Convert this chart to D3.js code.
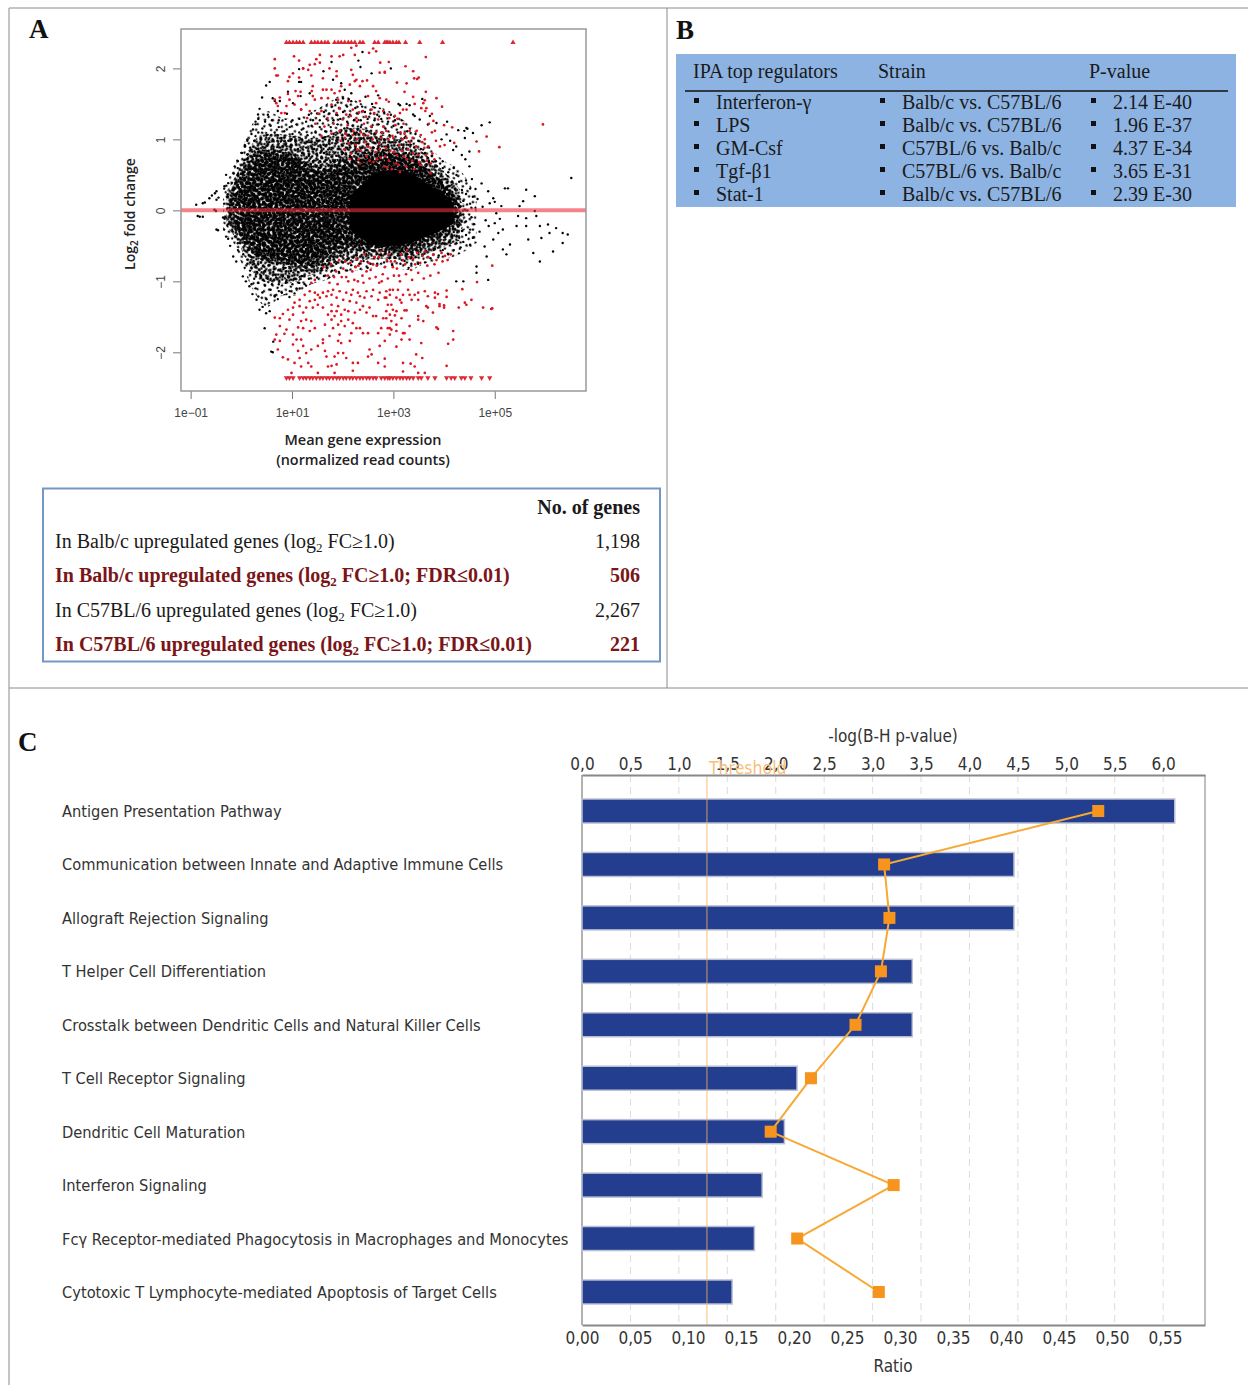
<!DOCTYPE html>
<html>
<head>
<meta charset="utf-8">
<script src="https://d3js.org/d3.v7.min.js"></script>
<style>
	html, body { margin: 0; padding: 0; background: #fff; }
	svg { display: block; }
	.serif { font-family: "Liberation Serif", serif; fill: #1a1a1a; }
	.sans { font-family: "Open Sans", sans-serif; }
	.cond { font-family: "DejaVu Sans", sans-serif; font-stretch: condensed; fill: #333; }
</style>
</head>
<body>
<svg id="viz" width="1248" height="1385"></svg>
<script>

// ---------- panel A: MA plot ----------
// x values are log10(mean expression), y values are log2 fold change
const maXTicks = [-1, 1, 3, 5];
const maXLabels = ["1e\u221201", "1e+01", "1e+03", "1e+05"];
const maYTicks = [-2, -1, 0, 1, 2];
const maYLabels = ["\u22122", "\u22121", "0", "1", "2"];

// The cloud is too dense to read one dot at a time, so it is kept as density outlines
const cloudFringeX = [-0.36, -0.16, 0.03, 0.23, 0.49, 0.82, 1.09, 1.35, 1.68, 2.0, 2.4, 2.86, 3.32, 3.65, 3.98, 4.31, 4.64];
const cloudFringeHi = [0.34, 0.57, 0.9, 1.23, 1.4, 1.3, 1.3, 1.38, 1.5, 1.62, 1.5, 1.42, 1.2, 0.95, 0.71, 0.57, 0.2];
const cloudFringeLo = [-0.32, -0.46, -0.79, -1.12, -1.36, -1.2, -1.2, -1.05, -0.98, -0.88, -0.84, -0.79, -0.84, -0.74, -0.7, -0.62, -0.46];

const cloudOuterX = [-0.3, -0.1, 0.1, 0.36, 0.69, 1.02, 1.35, 1.68, 2.0, 2.4, 2.86, 3.32, 3.65, 3.98, 4.31];
const cloudOuterHi = [0.25, 0.5, 0.8, 1.05, 1.08, 1.05, 1.02, 1.05, 1.15, 1.15, 1.05, 0.95, 0.78, 0.56, 0.3];
const cloudOuterLo = [-0.22, -0.4, -0.7, -0.98, -1.02, -1.02, -0.92, -0.84, -0.74, -0.7, -0.68, -0.7, -0.62, -0.52, -0.42];

const cloudMidX = [-0.16, 0.03, 0.36, 0.69, 1.02, 1.35, 1.68, 2.0, 2.66, 3.32, 3.65, 3.98, 4.31];
const cloudMidHi = [0.2, 0.45, 0.78, 0.8, 0.76, 0.62, 0.56, 0.66, 0.78, 0.76, 0.6, 0.4, 0.12];
const cloudMidLo = [-0.2, -0.4, -0.68, -0.72, -0.76, -0.8, -0.66, -0.54, -0.56, -0.58, -0.46, -0.34, -0.2];

const cloudCoreX = [2.14, 2.4, 2.66, 2.99, 3.32, 3.65, 3.98, 4.18];
const cloudCoreHi = [0.2, 0.38, 0.53, 0.57, 0.53, 0.38, 0.24, 0.1];
const cloudCoreLo = [-0.27, -0.41, -0.5, -0.5, -0.46, -0.37, -0.27, -0.18];

const blackPoints = [
	[6.51,.455],[4.9,1.24],[4.74,1.2],[4.44,1.16],[4.28,1.13],[4.41,1.02],[4.5,.83],[4.24,.9],[4.05,1.07],[3.85,1.23],
	[5.2,.31],[5.26,.31],[5.62,.29],[5.79,.2],[5.56,.13],[5.49,.06],[4.87,.27],[4.74,.38],[4.97,.17],[5.13,.06],
	[5.03,-.04],[5.46,-.08],[5.62,-.11],[5.79,-.01],[5.82,-.08],[5.43,-.22],[5.62,-.22],[5.89,-.22],[6.05,-.2],[6.21,-.25],
	[5.92,-.39],[6.08,-.32],[6.34,-.32],[6.44,-.34],[6.34,-.46],[6.15,-.58],[5.89,-.72],[5.76,-.6],[5.66,-.41],[5.3,-.48],
	[5.16,-.55],[5.23,-.62],[5.16,-.27],[5.07,-.32],[4.97,-.41],[4.8,-.51],[4.84,-.65],[4.64,-.79],[4.87,-.98],[4.64,-.88],
	[4.38,-1],[4.24,-1],[5.0,.12],[4.9,.1],[5.1,-.12],[5.0,-.18],[4.88,-.22],[4.82,-.14],[4.76,.05],[4.7,-.3],
	[4.62,.3],[4.55,.44],[4.66,.16],[4.58,-.38],[4.5,.62],[4.42,.72],[4.35,.78],[4.18,.85],[4.12,.98],[3.95,1.0],
	[-.89,.08],[-.76,.1],[-.72,.11],[-.86,-.08],[-.82,-.09],[-.76,-.09],[-.63,.17],[-.58,.21],[-.49,.27],[-.52,.24],
	[-.49,.15],[-.45,.18],[-.49,-.27],[-.46,-.28],[-.53,.01],[-.5,-.01],[-.3,.5],[-.33,.34],[-.36,-.1],[-.33,-.12],
	[-.3,-.37],[-.26,-.4],[-.16,-.65],[-.1,-.72],[-.22,-.5],[-.13,.62],[-.08,.7],[0,.81],[.07,.9],[.12,1.0],
	[.23,1.14],[.28,1.25],[.33,1.35],[.36,1.43],[.03,-.93],[.09,-1.0],[.16,-1.07],[.22,-1.18],[.3,-1.26],[.36,-1.4],
	[.42,-1.36],[.49,-1.45],[.46,-1.66],[.63,-1.85],[.59,-1.99],[.62,-2.0],[.56,-1.42],[.66,-1.2],[.72,-1.25],[.8,-1.16],
	[.95,-1.22],[1.05,-1.17],[1.15,-1.1],[1.25,-1.04],[.49,1.76],[.56,1.81],[.41,1.59],[1.14,1.99],[1.22,2.0],[1.14,1.81],
	[1.18,1.81],[1.78,2.09],[1.62,1.96],[2.39,2.23],[2.31,2.11],[2.35,2.02],[2.57,1.93],[1.81,1.84],[.92,1.67],[.62,1.58],
	[.66,1.54],[.76,1.54],[1.17,1.61],[1.02,1.51],[2.17,1.65],[2.04,1.7],[1.97,1.79],[1.35,1.65],[2.95,2.0],[3.57,1.57],
	[3.26,1.5],[3.32,1.48],[3.13,1.48],[3.72,1.33],[4.06,1.25],[4.46,1.15],[4.4,1.12],[4.57,1.09],[3.68,1.21],[3.52,1.28],
	[3.39,1.35],[3.42,1.33],[2.12,1.56],[2.45,1.6],[2.7,1.62],[2.58,1.5],[3.1,1.5],[1.9,1.52],[.72,1.4],[.9,1.36],[1.18,1.42]
];

const redTopPoints = [
	[.66,2.13],[.66,2.0],[.69,1.9],[.72,1.9],[1.04,2.17],[1.14,2.11],[.95,1.88],[1.02,1.93],[1.14,1.87],[.92,1.82],
	[1.48,2.13],[1.55,2.19],[1.45,2.06],[1.55,2.08],[1.35,2.05],[1.32,1.98],[1.22,2.0],[1.78,2.17],[1.94,2.17],[2.01,2.19],
	[1.74,2.0],[1.88,1.96],[1.88,1.89],[1.61,1.86],[1.38,1.9],[2.24,2.19],[2.17,2.29],[2.27,2.32],[2.52,2.22],[2.6,2.28],
	[2.66,2.24],[2.74,2.08],[2.73,1.94],[2.83,1.94],[2.17,1.98],[2.2,1.91],[2.27,1.84],[2.24,1.82],[2.39,1.82],[2.48,1.83],
	[1.41,1.75],[1.39,1.68],[1.41,1.61],[1.07,1.68],[1.17,1.67],[.92,1.64],[1.12,1.61],[.76,1.59],[.66,1.56],[.69,1.51],
	[.72,1.47],[.95,1.56],[1.05,1.49],[.89,1.47],[.79,1.37],[.86,1.37],[1.28,1.49],[1.18,1.42],[1.45,1.56],[1.61,1.7],
	[1.68,1.7],[1.78,1.7],[1.84,1.65],[1.94,1.68],[1.97,1.75],[2.14,1.77],[2.34,1.75],[2.6,1.75],[2.66,1.68],[2.73,1.58],
	[1.58,1.58],[1.71,1.58],[1.91,1.56],[2.11,1.54],[2.34,1.54],[2.5,1.61],[2.66,1.51],[2.8,1.4],[2.89,1.35],[2.07,1.35],
	[2.4,1.4],[2.27,1.3],[1.35,1.4],[1.58,1.4],[1.78,1.49],[1.94,1.44],[2.2,1.42],[2.57,1.42],
	[2.91,2.09],[2.83,1.95],[3.24,2.03],[3.39,1.96],[3.41,1.86],[3.47,1.85],[3.5,1.87],[3.64,2.16],[3.07,1.8],[3.26,1.79],
	[3.22,1.67],[3.39,1.6],[3.64,1.67],[3.85,1.58],[3.62,1.55],[3.59,1.51],[3.42,1.5],[3.55,1.44],[3.65,1.44],[3.63,1.4],
	[3.96,1.46],[3.76,1.36],[3.79,1.26],[4.0,1.2],[4.16,1.17],[3.82,1.12],[2.86,1.56],[2.91,1.53],[3.19,1.42],[3.26,1.42],
	[3.03,1.33],[3.13,1.37],[5.95,1.21],[5.09,.89],[4.84,1.04],[4.64,.97],[4.69,.83],[4.01,.92],[4.2,.95],
	[1.3,1.3],[1.46,1.22],[1.52,1.36],[1.58,1.05],[1.64,1.18],[1.7,1.3],[1.78,1.08],[1.82,1.22],[1.88,1.37],[1.94,1.12],
	[2.0,1.28],[2.04,1.02],[2.1,1.2],[2.16,1.33],[2.2,1.06],[2.28,1.25],[2.32,1.38],[2.36,1.1],[2.42,1.22],[2.46,1.32],
	[2.5,1.05],[2.56,1.18],[2.62,1.37],[2.66,1.1],[2.7,1.28],[2.76,1.02],[2.8,1.18],[2.86,1.12],[2.92,1.3],[2.98,1.05],
	[3.04,1.2],[3.08,1.29],[3.14,1.1],[3.2,1.22],[3.26,1.02],[3.32,1.12],[3.38,1.02],[3.46,1.12],[3.54,1.06],[3.62,1.0],
	[3.7,1.22],[3.76,1.1],[3.84,.98],[3.92,.9]
];

const redMidPoints = [
	[1.96,.98],[2.03,.86],[2.12,.94],[2.17,.8],[2.26,.92],[2.31,.72],[2.36,.84],[2.44,.96],[2.47,.76],[2.55,.88],
	[2.61,.68],[2.65,.82],[2.72,.94],[2.75,.74],[2.82,.62],[2.85,.88],[2.91,.7],[2.97,.58],[3.01,.82],[3.05,.66],
	[3.12,.92],[3.13,.54],[3.21,.76],[3.25,.62],[3.29,.86],[3.37,.7],[3.41,.58],[3.49,.78],[3.53,.64],[3.61,.88],
	[3.66,.7],[3.73,.52],[3.77,.8],[2.28,1.0],[2.9,1.0],[3.18,1.0],
	[1.62,-.8],[1.71,-.92],[1.77,-.76],[1.87,-.86],[1.93,-.7],[2.01,-.82],[2.07,-.94],[2.15,-.74],[2.19,-.86],[2.27,-.68],
	[2.31,-.78],[2.39,-.92],[2.43,-.62],[2.51,-.74],[2.55,-.84],[2.63,-.66],[2.67,-.78],[2.75,-.58],[2.79,-.9],[2.87,-.7],
	[2.91,-.62],[2.99,-.8],[3.03,-.72],[3.11,-.92],[3.15,-.62],[3.23,-.76],[3.27,-.56],[3.35,-.84],[3.39,-.68],[3.47,-.6],
	[3.53,-.74],[3.63,-.58],[3.69,-.66],[3.79,-.62],[3.85,-.7],[3.95,-.6],[4.02,-.64],[1.45,-.98],[1.38,-1.02],[2.3,-1.0],[2.72,-1.02],
	// second pass over the red patches lying on the black cloud
	[2.06,1.08],[2.14,.72],[2.21,1.12],[2.29,.86],[2.34,.66],[2.41,1.06],[2.49,.9],[2.53,.7],[2.59,1.0],[2.68,.72],
	[2.73,.86],[2.78,1.1],[2.84,.76],[2.88,.6],[2.94,.84],[3.0,1.02],[3.07,.78],[3.1,.64],[3.17,.84],[3.22,1.08],
	[3.27,.72],[3.33,.96],[3.39,.8],[3.45,.9],[3.51,.68],[3.57,.96],[3.64,.78],[3.69,.9],[3.74,.66],[3.81,.72],
	[1.74,-1.02],[1.83,-.94],[1.9,-1.04],[1.98,-.94],[2.05,-.72],[2.11,-1.0],[2.23,-.98],[2.25,-.8],[2.36,-.72],[2.41,-1.02],
	[2.47,-.86],[2.53,-.96],[2.6,-.76],[2.65,-.94],[2.71,-.66],[2.77,-1.0],[2.83,-.8],[2.89,-.96],[2.95,-.72],[3.01,-.92],
	[3.07,-.82],[3.13,-1.0],[3.19,-.7],[3.25,-.9],[3.31,-.66],[3.37,-.98],[3.43,-.76],[3.49,-.88],[3.57,-.64],[3.6,-.96],
	[3.67,-.78],[3.73,-.92],[3.81,-.76],[3.89,-.88],[3.97,-.72],[4.07,-.7],[4.13,-.62]
];

const redBottomPoints = [
	[.66,-1.51],[.76,-1.52],[.82,-1.46],[.92,-1.4],[1.02,-1.37],[.95,-1.54],[1.05,-1.3],[1.15,-1.26],[1.25,-1.19],[1.35,-1.28],
	[1.45,-1.26],[1.51,-1.19],[1.61,-1.16],[1.71,-1.14],[1.81,-1.12],[1.94,-1.14],[2.07,-1.16],[2.2,-1.12],[2.34,-1.21],[2.47,-1.14],
	[2.6,-1.12],[2.73,-1.16],[2.86,-1.14],[1.22,-1.44],[1.41,-1.37],[1.51,-1.33],[1.61,-1.37],[1.78,-1.33],[1.91,-1.35],[2.04,-1.4],
	[2.14,-1.28],[2.27,-1.3],[2.4,-1.35],[2.53,-1.37],[2.66,-1.49],[2.8,-1.52],[2.89,-1.33],[1.18,-1.56],[1.28,-1.54],[1.38,-1.56],
	[1.45,-1.66],[1.35,-1.7],[1.22,-1.66],[1.12,-1.65],[1.02,-1.75],[.89,-1.68],[.76,-1.63],[.69,-1.75],[.85,-1.74],[.66,-1.82],
	[.76,-1.84],[.72,-1.96],[1.09,-1.82],[1.18,-1.82],[1.22,-1.91],[1.12,-1.98],[1.02,-1.89],[1.15,-2.08],[1.05,-2.15],[.92,-2.1],
	[.82,-2.07],[1.18,-2.2],[1.32,-2.15],[1.38,-2.2],[1.28,-2.01],[1.38,-1.96],[1.51,-1.91],[1.61,-1.87],[1.65,-1.98],[1.68,-2.06],
	[1.61,-1.82],[1.74,-1.77],[1.71,-2.2],[1.78,-2.19],[1.88,-2.17],[1.84,-2.06],[1.91,-2.01],[2.01,-2.01],[2.07,-2.08],[1.97,-1.87],
	[1.91,-1.84],[1.94,-1.75],[1.81,-1.66],[1.91,-1.61],[1.97,-1.56],[1.78,-1.54],[1.65,-1.61],[1.71,-1.47],[1.84,-1.49],[2.04,-1.63],
	[2.11,-1.54],[2.2,-1.59],[2.27,-1.66],[2.34,-1.66],[2.14,-1.84],[2.17,-1.73],[2.4,-1.73],[2.5,-1.73],[2.7,-1.73],[2.76,-1.66],
	[2.89,-1.66],[2.73,-1.91],[2.53,-1.96],[2.57,-2.03],[2.7,-2.15],[2.83,-2.2],[2.3,-2.15],[2.2,-2.15],[2.5,-2.06],[1.51,-2.29],
	[2.2,-2.26],[1.84,-2.29],[.99,-2.29],[1.35,-1.14],[1.45,-1.16],[1.55,-1.23],[1.68,-1.21],[1.78,-1.19],[1.88,-1.23],[2.01,-1.26],
	[2.17,-1.19],[2.3,-1.16],[2.43,-1.23],[2.57,-1.21],[2.7,-1.26],[2.83,-1.23],[1.88,-1.42],[1.97,-1.47],[2.11,-1.42],[2.24,-1.44],
	[2.34,-1.4],[2.47,-1.44],[2.6,-1.49],[1.15,-1.35],[1.28,-1.37],[1.02,-1.47],[1.78,-1.42],
	[2.86,-1.23],[2.93,-1.19],[2.96,-1.33],[2.86,-1.42],[2.99,-1.4],[3.06,-1.42],[2.93,-1.47],[3.03,-1.48],[2.86,-1.52],[2.96,-1.56],
	[3.06,-1.61],[3.16,-1.52],[3.32,-1.63],[2.93,-1.66],[2.96,-1.68],[3.06,-1.7],[2.93,-1.75],[3.19,-1.73],[3.22,-1.73],[3.16,-1.82],
	[3.32,-1.82],[3.06,-1.92],[2.83,-1.84],[3.55,-1.87],[2.83,-2.09],[3.19,-2.15],[3.34,-2.16],[3.42,-2.2],[3.45,-2.03],[3.57,-2.08],
	[3.19,-2.27],[3.49,-2.29],[3.62,-2.29],[4.05,-2.19],[4.08,-1.88],[4.18,-1.82],[4.18,-1.7],[3.85,-1.65],[3.88,-1.67],[3.59,-1.56],
	[3.49,-1.49],[3.49,-1.54],[3.78,-1.44],[3.65,-1.35],[3.68,-1.37],[3.91,-1.35],[4.0,-1.34],[3.91,-1.32],[4.0,-1.37],[4.29,-1.37],
	[4.41,-1.3],[4.44,-1.33],[4.54,-1.26],[4.77,-1.37],[4.95,-1.38],[4.36,-1.11],[4.05,-1.22],[3.82,-1.23],[3.68,-1.21],[3.49,-1.26],
	[3.36,-1.26],[3.26,-1.41],[3.22,-1.41],[3.16,-1.3],[3.06,-1.23],[3.13,-1.26],[3.29,-1.12],[3.42,-1.19],[3.49,-1.16],[3.62,-1.14],
	[3.82,-1.16],[3.88,-1.18],[4.05,-1.13],[2.99,-1.12],[3.09,-1.12],[2.93,-1.12],[3.19,-1.19],[3.32,-1.19],[4.65,-1.01],[4.93,-1.39],[4.95,-.78]
];

// points at the plot limit, drawn as triangles
const clippedTop = [
	.89,.95,1.02,1.09,1.15,1.22,1.38,1.45,1.51,1.58,1.65,1.71,1.84,1.91,1.97,2.04,2.11,2.17,2.24,2.34,2.4,2.63,2.7,2.83,2.89,
	2.86,2.93,2.99,3.06,3.11,3.24,3.52,3.97,5.36
];
const clippedBottom = [
	.89,.95,1.02,1.15,1.22,1.28,1.35,1.41,1.48,1.55,1.61,1.68,1.74,1.81,1.88,1.94,2.01,2.07,2.14,2.2,2.27,2.34,2.4,2.47,2.53,
	2.6,2.66,2.76,2.83,2.89,2.93,2.99,3.06,3.13,3.19,3.26,3.32,3.39,3.49,3.55,3.68,3.82,4.05,4.14,4.21,4.34,4.41,4.53,4.74,4.9
];

// ---------- panel A: gene count table ----------
const geneLabels = ["In Balb/c upregulated genes (log", "In Balb/c upregulated genes (log", "In C57BL/6 upregulated genes (log", "In C57BL/6 upregulated genes (log"];
const geneLabelEnds = [" FC\u22651.0)", " FC\u22651.0; FDR\u22640.01)", " FC\u22651.0)", " FC\u22651.0; FDR\u22640.01)"];
const geneCounts = ["1,198", "506", "2,267", "221"];

// ---------- panel B: regulators ----------
const regulators = ["Interferon-\u03B3", "LPS", "GM-Csf", "Tgf-\u03B21", "Stat-1"];
const strains = ["Balb/c vs. C57BL/6", "Balb/c vs. C57BL/6", "C57BL/6 vs. Balb/c", "C57BL/6 vs. Balb/c", "Balb/c vs. C57BL/6"];
const pValues = ["2.14 E-40", "1.96 E-37", "4.37 E-34", "3.65 E-31", "2.39 E-30"];

// ---------- panel C: pathways ----------
const pathways = [
	"Antigen Presentation Pathway",
	"Communication between Innate and Adaptive Immune Cells",
	"Allograft Rejection Signaling",
	"T Helper Cell Differentiation",
	"Crosstalk between Dendritic Cells and Natural Killer Cells",
	"T Cell Receptor Signaling",
	"Dendritic Cell Maturation",
	"Interferon Signaling",
	"Fc\u03B3 Receptor-mediated Phagocytosis in Macrophages and Monocytes",
	"Cytotoxic T Lymphocyte-mediated Apoptosis of Target Cells"
];
const logPValues = [6.12, 4.46, 4.46, 3.41, 3.41, 2.22, 2.09, 1.86, 1.78, 1.55];
const ratios = [0.487, 0.285, 0.29, 0.282, 0.258, 0.216, 0.178, 0.294, 0.203, 0.28];
const thresholdValue = 1.29;
const logTicks = [0, 0.5, 1, 1.5, 2, 2.5, 3, 3.5, 4, 4.5, 5, 5.5, 6];
const logTickLabels = ["0,0", "0,5", "1,0", "1,5", "2,0", "2,5", "3,0", "3,5", "4,0", "4,5", "5,0", "5,5", "6,0"];
const ratioTicks = [0, 0.05, 0.1, 0.15, 0.2, 0.25, 0.3, 0.35, 0.4, 0.45, 0.5, 0.55];
const ratioTickLabels = ["0,00", "0,05", "0,10", "0,15", "0,20", "0,25", "0,30", "0,35", "0,40", "0,45", "0,50", "0,55"];

// dots for the stipple tiles used by the cloud
const stippleDots = [
	[2,3],[7,1],[12,4],[18,2],[24,3],[28,6],[4,8],[9,7],[15,9],[21,7],[26,11],[1,13],[6,13],[11,12],[17,14],[23,13],
	[29,16],[3,18],[8,19],[14,18],[20,19],[25,18],[1,23],[6,24],[11,22],[16,24],[22,23],[27,22],[4,28],[9,27],[14,29],[19,28],[24,28],[29,27]
];

let svg = d3.select("svg#viz");
svg.append("defs");

drawFrame();
drawPanelA();
drawPanelB();
drawPanelC();

function panelLabel(text, x, y) {
	svg.append("text").attr("class", "serif")
		.attr("x", x).attr("y", y)
		.attr("font-size", 27).attr("font-weight", "bold")
		.style("fill", "#111")
		.text(text);
}

function drawFrame() {
	let lines = [[9, 8, 1248, 8], [9, 8, 9, 1385], [667, 8, 667, 688], [9, 688, 1248, 688]];
	svg.selectAll("line.frame").data(lines).enter().append("line")
		.attr("class", "frame")
		.attr("x1", d => d[0]).attr("y1", d => d[1])
		.attr("x2", d => d[2]).attr("y2", d => d[3])
		.attr("stroke", "#8a8a8a").attr("stroke-width", 1);
}

function makePattern(id, size, rotate, radius) {
	let p = svg.select("defs").append("pattern")
		.attr("id", id)
		.attr("patternUnits", "userSpaceOnUse")
		.attr("width", size).attr("height", size)
		.attr("patternTransform", `rotate(${rotate})`);
	p.selectAll("circle").data(stippleDots).enter().append("circle")
		.attr("cx", d => d[0] * size / 30)
		.attr("cy", d => d[1] * size / 30)
		.attr("r", radius)
		.attr("fill", "#000");
}

function drawPanelA() {
	panelLabel("A", 29, 38);

	let box = {left: 181, right: 586, top: 29, bottom: 391};
	let x = d3.scaleLinear().domain([-1.19, 6.8]).range([box.left, box.right]);
	let y = d3.scaleLinear().domain([2.555, -2.545]).range([box.top, box.bottom]);

	makePattern("stipA", 41, 0, 1.2);
	makePattern("stipB", 33, 37, 1.2);
	makePattern("stipC", 37, -24, 1.2);
	makePattern("stipD", 29, 61, 1.25);
	makePattern("stipE", 31, 13, 1.3);
	makePattern("stipF", 27, -52, 1.3);
	makePattern("stipG", 25, 78, 1.3);

	svg.select("defs").append("filter").attr("id", "soft")
		.append("feGaussianBlur").attr("stdDeviation", 0.4);

	let plot = svg.append("g").attr("id", "ma-plot").attr("filter", "url(#soft)");

	// density outlines of the cloud
	function band(xs, hi, lo) {
		return d3.area()
			.x((d, i) => x(xs[i]))
			.y0((d, i) => y(lo[i]))
			.y1((d, i) => y(hi[i]))
			.curve(d3.curveCatmullRom)(xs);
	}
	let fringe = band(cloudFringeX, cloudFringeHi, cloudFringeLo);
	let outer = band(cloudOuterX, cloudOuterHi, cloudOuterLo);
	let mid = band(cloudMidX, cloudMidHi, cloudMidLo);
	let core = band(cloudCoreX, cloudCoreHi, cloudCoreLo);

	["stipA", "stipB"].forEach(id => plot.append("path").attr("d", fringe).attr("fill", `url(#${id})`));
	["stipC", "stipD", "stipE"].forEach(id => plot.append("path").attr("d", outer).attr("fill", `url(#${id})`));
	["stipF", "stipG", "stipA", "stipD", "stipB", "stipE", "stipC"].forEach((id, i) => plot.append("path")
		.attr("d", mid)
		.attr("fill", `url(#${id})`)
		.attr("transform", `translate(${(i - 3) * 2},${(i - 3) * 1.5})`));
	plot.append("path").attr("d", core).attr("fill", "#000");

	function dots(data, color, r) {
		plot.append("g").selectAll("circle").data(data).enter().append("circle")
			.attr("cx", d => x(d[0]))
			.attr("cy", d => y(d[1]))
			.attr("r", r)
			.attr("fill", color);
	}
	dots(blackPoints, "#000", 1.2);
	dots(redTopPoints, "#dc1420", 1.35);
	dots(redMidPoints, "#dc1420", 1.35);
	dots(redBottomPoints, "#dc1420", 1.35);

	let tri = d3.symbol().type(d3.symbolTriangle).size(12);
	plot.append("g").selectAll("path").data(clippedTop).enter().append("path")
		.attr("d", tri)
		.attr("transform", d => `translate(${x(d)},${y(2.366)})`)
		.attr("fill", "#dc2a34");
	plot.append("g").selectAll("path").data(clippedBottom).enter().append("path")
		.attr("d", tri)
		.attr("transform", d => `translate(${x(d)},${y(-2.36)}) rotate(180)`)
		.attr("fill", "#dc2a34");

	// zero line
	svg.append("line")
		.attr("x1", box.left).attr("x2", box.right)
		.attr("y1", y(0)).attr("y2", y(0))
		.attr("stroke", "#ee3040").attr("stroke-opacity", 0.6).attr("stroke-width", 4);

	// axes
	let xAxis = d3.axisBottom(x).tickValues(maXTicks).tickSize(8).tickPadding(9)
		.tickFormat((d, i) => maXLabels[i]);
	let xGroup = svg.append("g").attr("transform", `translate(0,${box.bottom})`).call(xAxis);
	xGroup.select(".domain").remove();

	let yAxis = d3.axisLeft(y).tickValues(maYTicks).tickSize(8)
		.tickFormat((d, i) => maYLabels[i]);
	let yGroup = svg.append("g").attr("transform", `translate(${box.left},0)`).call(yAxis);
	yGroup.select(".domain").remove();
	yGroup.selectAll("text")
		.attr("x", -16).attr("y", 0).attr("dy", 0)
		.attr("text-anchor", "middle")
		.attr("transform", "rotate(-90,-16,0)");

	[xGroup, yGroup].forEach(g => {
		g.selectAll("line").attr("stroke", "#777");
		g.selectAll("text").attr("font-family", "Liberation Sans, sans-serif").attr("font-size", 12).attr("fill", "#444");
	});

	svg.append("rect")
		.attr("x", box.left).attr("y", box.top)
		.attr("width", box.right - box.left).attr("height", box.bottom - box.top)
		.attr("fill", "none").attr("stroke", "#999").attr("stroke-width", 1.5);

	// axis titles
	let yTitle = svg.append("text").attr("class", "sans")
		.attr("transform", "translate(135,214) rotate(-90)")
		.attr("text-anchor", "middle")
		.attr("font-size", 14).attr("font-weight", 600).attr("fill", "#222");
	yTitle.append("tspan").text("Log");
	yTitle.append("tspan").attr("font-size", 10).attr("dy", 3).text("2");
	yTitle.append("tspan").attr("dy", -3).text(" fold change");

	svg.append("text").attr("class", "sans")
		.attr("x", 363).attr("y", 445).attr("text-anchor", "middle")
		.attr("font-size", 14.5).attr("font-weight", 600).attr("fill", "#222")
		.text("Mean gene expression");
	svg.append("text").attr("class", "sans")
		.attr("x", 363).attr("y", 465).attr("text-anchor", "middle")
		.attr("font-size", 14.4).attr("font-weight", 600).attr("fill", "#222")
		.text("(normalized read counts)");

	// gene count box
	svg.append("rect")
		.attr("x", 43).attr("y", 488.5).attr("width", 617).attr("height", 173)
		.attr("fill", "#fff").attr("stroke", "#7398c8").attr("stroke-width", 2);
	svg.append("text").attr("class", "serif")
		.attr("x", 640).attr("y", 514).attr("text-anchor", "end")
		.attr("font-size", 20).attr("font-weight", "bold")
		.text("No. of genes");

	let rowY = d3.scalePoint().domain(d3.range(4)).range([548, 651]);
	let rows = svg.append("g").selectAll("g").data(geneCounts).enter().append("g");
	rows.each(function(d, i) {
		let bold = i % 2 == 1;
		let color = bold ? "#7a1518" : "#1a1a1a";
		let label = d3.select(this).append("text").attr("class", "serif")
			.attr("x", 55).attr("y", rowY(i))
			.attr("font-size", 20)
			.attr("font-weight", bold ? "bold" : "normal")
			.style("fill", color);
		label.append("tspan").text(geneLabels[i]);
		label.append("tspan").attr("font-size", 13).attr("dy", 4).text("2");
		label.append("tspan").attr("dy", -4).text(geneLabelEnds[i]);
		d3.select(this).append("text").attr("class", "serif")
			.attr("x", 640).attr("y", rowY(i)).attr("text-anchor", "end")
			.attr("font-size", 20)
			.attr("font-weight", bold ? "bold" : "normal")
			.style("fill", color)
			.text(d);
	});
}

function drawPanelB() {
	panelLabel("B", 676, 39);

	svg.append("rect")
		.attr("x", 676).attr("y", 54).attr("width", 560).attr("height", 153)
		.attr("fill", "#8db3e2");

	let columns = [
		{title: "IPA top regulators", values: regulators, titleX: 693, bulletX: 694, textX: 716},
		{title: "Strain", values: strains, titleX: 878, bulletX: 880, textX: 902},
		{title: "P-value", values: pValues, titleX: 1089, bulletX: 1091, textX: 1113}
	];
	let rowY = d3.scalePoint().domain(d3.range(5)).range([109, 201]);

	columns.forEach(c => {
		svg.append("text").attr("class", "serif")
			.attr("x", c.titleX).attr("y", 78)
			.attr("font-size", 20)
			.text(c.title);
		svg.append("g").selectAll("rect").data(c.values).enter().append("rect")
			.attr("x", c.bulletX).attr("y", (d, i) => rowY(i) - 11)
			.attr("width", 5).attr("height", 5)
			.attr("fill", "#111");
		svg.append("g").selectAll("text").data(c.values).enter().append("text")
			.attr("class", "serif")
			.attr("x", c.textX).attr("y", (d, i) => rowY(i))
			.attr("font-size", 20)
			.text(d => d);
	});

	svg.append("line")
		.attr("x1", 685).attr("x2", 1228).attr("y1", 91).attr("y2", 91)
		.attr("stroke", "#111").attr("stroke-width", 1.5);
}

function drawPanelC() {
	panelLabel("C", 18, 751);

	let box = {left: 582, right: 1205, top: 775, bottom: 1325};
	let xLog = d3.scaleLinear().domain([0, 6.432]).range([box.left, box.right]);
	let xRatio = d3.scaleLinear().domain([0, 0.5877]).range([box.left, box.right]);
	let yBand = d3.scaleBand().domain(pathways).range([784.3, 1318.7]).paddingInner(0.55).paddingOuter(0.275);
	let yMid = d => yBand(d) + yBand.bandwidth() / 2;

	// dashed grid
	svg.append("g").selectAll("line").data(logTicks.slice(1)).enter().append("line")
		.attr("x1", d => xLog(d)).attr("x2", d => xLog(d))
		.attr("y1", box.top).attr("y2", box.bottom)
		.attr("stroke", "#dcdcdc").attr("stroke-dasharray", "7,5");

	// frame
	svg.append("line").attr("x1", box.right).attr("x2", box.right).attr("y1", box.top).attr("y2", box.bottom)
		.attr("stroke", "#aaa").attr("stroke-width", 1.5);
	svg.append("line").attr("x1", box.left).attr("x2", box.left).attr("y1", box.top).attr("y2", box.bottom)
		.attr("stroke", "#999").attr("stroke-width", 1.5);

	// bars
	svg.append("g").selectAll("rect").data(pathways).enter().append("rect")
		.attr("x", box.left)
		.attr("y", d => yBand(d))
		.attr("width", (d, i) => xLog(logPValues[i]) - box.left)
		.attr("height", yBand.bandwidth())
		.attr("fill", "#233e8e")
		.attr("stroke", "#bcc1d4").attr("stroke-width", 1.5);

	// threshold
	svg.append("line")
		.attr("x1", xLog(thresholdValue)).attr("x2", xLog(thresholdValue))
		.attr("y1", box.top).attr("y2", box.bottom)
		.attr("stroke", "#f7b05a").attr("stroke-opacity", 0.8);

	// ratio line and markers
	let line = d3.line().x(d => xRatio(d)).y((d, i) => yMid(pathways[i]));
	svg.append("path")
		.attr("d", line(ratios))
		.attr("fill", "none").attr("stroke", "#f7a935").attr("stroke-width", 2);
	svg.append("g").selectAll("rect").data(ratios).enter().append("rect")
		.attr("x", d => xRatio(d) - 6)
		.attr("y", (d, i) => yMid(pathways[i]) - 6)
		.attr("width", 12).attr("height", 12)
		.attr("fill", "#f7941d");

	// axes
	let top = d3.axisTop(xLog).tickValues(logTicks).tickSize(0).tickPadding(5)
		.tickFormat((d, i) => logTickLabels[i]);
	let topGroup = svg.append("g").attr("transform", `translate(0,${box.top})`).call(top);
	let bottom = d3.axisBottom(xRatio).tickValues(ratioTicks).tickSize(0).tickPadding(7)
		.tickFormat((d, i) => ratioTickLabels[i]);
	let bottomGroup = svg.append("g").attr("transform", `translate(0,${box.bottom})`).call(bottom);
	[topGroup, bottomGroup].forEach(g => {
		g.select(".domain").attr("stroke", "#888").attr("stroke-width", 2);
		g.selectAll("text").attr("class", "cond").attr("font-size", 17).attr("fill", "#333");
	});

	svg.append("text")
		.attr("x", 709).attr("y", 774)
		.attr("font-family", "DejaVu Sans, sans-serif").style("font-stretch", "condensed")
		.attr("font-size", 17.5).attr("fill", "#f9c07a")
		.text("Threshold");

	svg.append("text").attr("class", "cond")
		.attr("x", 893).attr("y", 742).attr("text-anchor", "middle")
		.attr("font-size", 17)
		.text("-log(B-H p-value)");
	svg.append("text").attr("class", "cond")
		.attr("x", 893).attr("y", 1372).attr("text-anchor", "middle")
		.attr("font-size", 17)
		.text("Ratio");

	// category labels
	svg.append("g").selectAll("text").data(pathways).enter().append("text")
		.attr("class", "cond")
		.attr("x", 62).attr("y", d => yMid(d) + 6)
		.attr("font-size", 16.3)
		.text(d => d);
}

</script>
</body>
</html>
